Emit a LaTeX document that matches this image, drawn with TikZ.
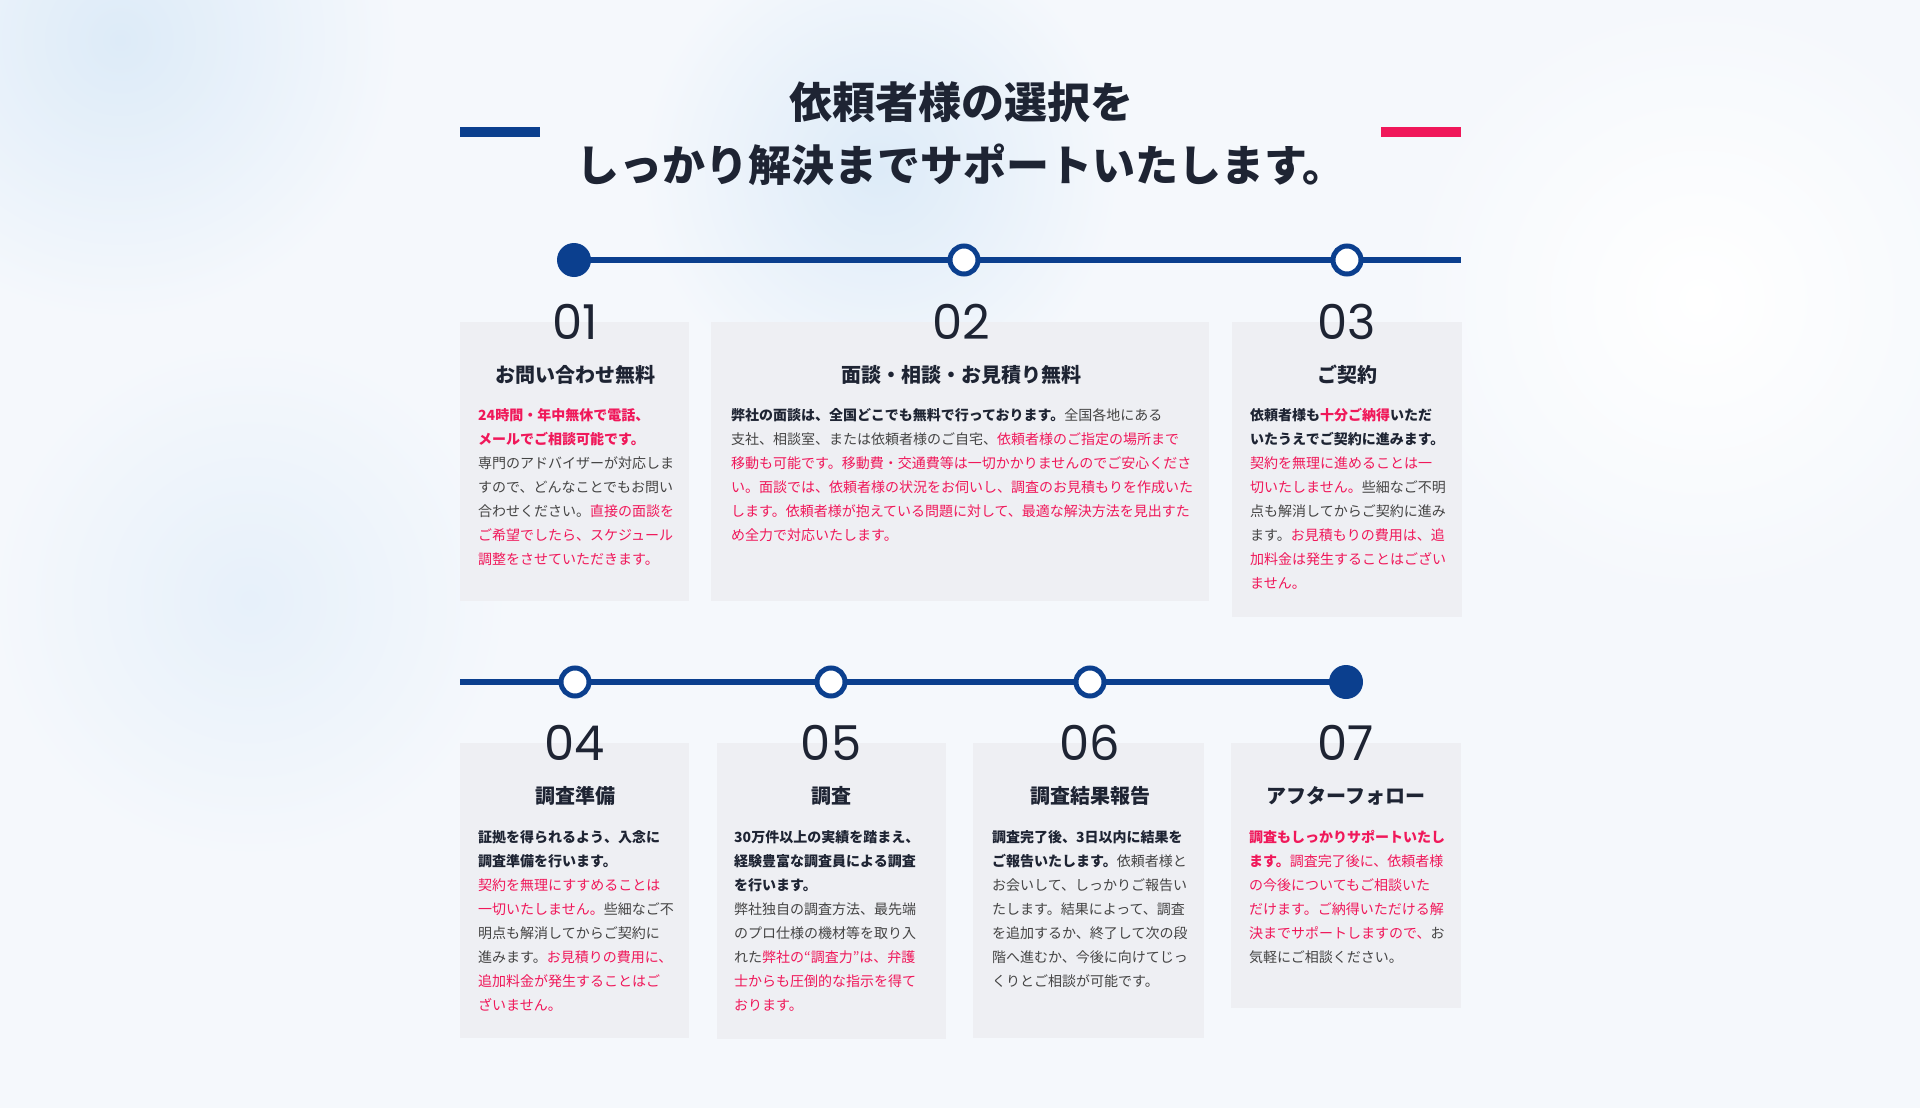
\documentclass[tikz,border=0pt]{standalone}
\usepackage{fontspec}
\setmainfont{Noto Sans CJK JP}
\newfontfamily\numfont{Poppins}
\definecolor{bgc}{HTML}{F5F8FC}
\definecolor{blob}{HTML}{DDEBF8}
\definecolor{navy}{HTML}{0B3F8E}
\definecolor{pinkc}{HTML}{F0185A}
\definecolor{cardc}{HTML}{EEEFF3}
\definecolor{txt}{HTML}{444444}
\definecolor{dark}{HTML}{1E2433}
\newcommand{\pk}[1]{{\color{pinkc}#1}}
\newcommand{\bp}[1]{{\bfseries\color{pinkc}#1}}
\newcommand{\bd}[1]{{\bfseries\color{dark}#1}}
\tikzset{
 card/.style={fill=cardc,draw=none},
 numlbl/.style={font=\numfont\fontsize{48}{48}\selectfont,text=dark,inner sep=0},
 ttl/.style={font=\bfseries\fontsize{20}{24}\selectfont,text=dark,inner sep=0},
 body/.style={font=\fontsize{14}{24}\selectfont,text=txt,align=left,anchor=north west,inner sep=0},
 tline/.style={draw=navy,line width=6},
 odot/.style={circle,draw=navy,line width=5,fill=white,minimum size=28,inner sep=0},
 fdot/.style={circle,fill=navy,minimum size=34,inner sep=0},
}
\begin{document}
\begin{tikzpicture}[x=1pt,y=-1pt]
\fill[bgc] (0,0) rectangle (1920,1108);
\useasboundingbox (0,0) rectangle (1920,1108);
\begin{scope}
\clip (0,0) rectangle (1920,1108);
\shade[inner color=blob,outer color=bgc] (120,40) circle (280);
\shade[inner color=blob,outer color=bgc] (880,170) circle (240);
\shade[inner color=white,outer color=bgc] (1700,300) circle (300);
\shade[inner color=blob!60!bgc,outer color=bgc] (250,600) circle (260);
\end{scope}
% title
\fill[navy] (460,127) rectangle (540,137);
\fill[pinkc] (1381,127) rectangle (1461,137);
\node[font=\bfseries\fontsize{43}{43}\selectfont,text=dark] (t1) at (961,102) {依頼者様の選択を};
\node[font=\bfseries\fontsize{43}{43}\selectfont,text=dark] (t2) at (961,165) {しっかり解決までサポートいたします。};
% timeline 1
\coordinate (l1s) at (574,260);
\coordinate (l1e) at (1461,260);
\draw[tline] (l1s) -- (l1e);
\node[fdot] (d1) at (574,260) {};
\node[odot] (d2) at (964,260) {};
\node[odot] (d3) at (1347,260) {};
% timeline 2
\coordinate (l2s) at (460,682);
\coordinate (l2e) at (1346,682);
\draw[tline] (l2s) -- (l2e);
\node[odot] (d4) at (575,682) {};
\node[odot] (d5) at (831,682) {};
\node[odot] (d6) at (1090,682) {};
\node[fdot] (d7) at (1346,682) {};
% cards row 1
\fill[card] (460,322) rectangle (689,601);
\fill[card] (711,322) rectangle (1209,601);
\fill[card] (1232,322) rectangle (1462,617);
\node[numlbl] (n1) at (575,322) {01};
\node[numlbl] (n2) at (961,322) {02};
\node[numlbl] (n3) at (1347,322) {03};
\node[ttl] (h1) at (575,375) {お問い合わせ無料};
\node[ttl] (h2) at (961,375) {面談・相談・お見積り無料};
\node[ttl] (h3) at (1347,375) {ご契約};
\node[body] (b1) at (478,408) {\bp{24時間・年中無休で電話、}\\\bp{メールでご相談可能です。}\\専門のアドバイザーが対応しま\\すので、どんなことでもお問い\\合わせください。\pk{直接の面談を}\\\pk{ご希望でしたら、スケジュール}\\\pk{調整をさせていただきます。}};
\node[body] (b2) at (731,408) {\bd{弊社の面談は、全国どこでも無料で行っております。}全国各地にある\\支社、相談室、または依頼者様のご自宅、\pk{依頼者様のご指定の場所まで}\\\pk{移動も可能です。移動費・交通費等は一切かかりませんのでご安心くださ}\\\pk{い。面談では、依頼者様の状況をお伺いし、調査のお見積もりを作成いた}\\\pk{します。依頼者様が抱えている問題に対して、最適な解決方法を見出すた}\\\pk{め全力で対応いたします。}};
\node[body] (b3) at (1250,408) {\bd{依頼者様も}\bp{十分ご納得}\bd{いただ}\\\bd{いたうえでご契約に進みます。}\\\pk{契約を無理に進めることは一}\\\pk{切いたしません。}些細なご不明\\点も解消してからご契約に進み\\ます。\pk{お見積もりの費用は、追}\\\pk{加料金は発生することはござい}\\\pk{ません。}};
% cards row 2
\fill[card] (460,743) rectangle (689,1038);
\fill[card] (717,743) rectangle (946,1039);
\fill[card] (973,743) rectangle (1204,1038);
\fill[card] (1231,743) rectangle (1461,1008);
\node[numlbl] (n4) at (575,743) {04};
\node[numlbl] (n5) at (831,743) {05};
\node[numlbl] (n6) at (1090,743) {06};
\node[numlbl] (n7) at (1346,743) {07};
\node[ttl] (h4) at (575,796) {調査準備};
\node[ttl] (h5) at (831,796) {調査};
\node[ttl] (h6) at (1090,796) {調査結果報告};
\node[ttl] (h7) at (1346,796) {アフターフォロー};
\node[body] (b4) at (478,830) {\bd{証拠を得られるよう、入念に}\\\bd{調査準備を行います。}\\\pk{契約を無理にすすめることは}\\\pk{一切いたしません。}些細なご不\\明点も解消してからご契約に\\進みます。\pk{お見積りの費用に、}\\\pk{追加料金が発生することはご}\\\pk{ざいません。}};
\node[body] (b5) at (734,830) {\bd{30万件以上の実績を踏まえ、}\\\bd{経験豊富な調査員による調査}\\\bd{を行います。}\\弊社独自の調査方法、最先端\\のプロ仕様の機材等を取り入\\れた\pk{弊社の“調査力”は、弁護}\\\pk{士からも圧倒的な指示を得て}\\\pk{おります。}};
\node[body] (b6) at (992,830) {\bd{調査完了後、3日以内に結果を}\\\bd{ご報告いたします。}依頼者様と\\お会いして、しっかりご報告い\\たします。結果によって、調査\\を追加するか、終了して次の段\\階へ進むか、今後に向けてじっ\\くりとご相談が可能です。};
\node[body] (b7) at (1249,830) {\bp{調査もしっかりサポートいたし}\\\bp{ます。}\pk{調査完了後に、依頼者様}\\\pk{の今後についてもご相談いた}\\\pk{だけます。ご納得いただける解}\\\pk{決までサポートしますので、}お\\気軽にご相談ください。};
\end{tikzpicture}
\end{document}
